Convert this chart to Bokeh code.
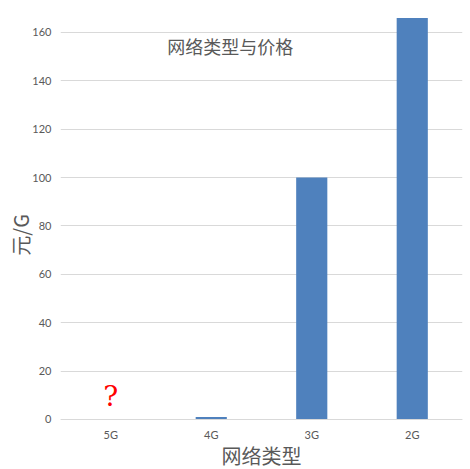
from bokeh.plotting import figure
from bokeh.models import ColumnDataSource, Label, Range1d, FixedTicker
from bokeh.core.properties import value
from bokeh.embed import file_html
from bokeh.resources import INLINE

categories = ["5G", "4G", "3G", "2G"]
prices = [0, 1, 100, 166]
y_ticks = [0, 20, 40, 60, 80, 100, 120, 140, 160]
title_text = "网络类型与价格"
x_label = "网络类型"
y_label = "元/G"
unknown_cat = ["5G"]
unknown_mark = ["?"]

CJK = "Noto Sans CJK SC"
GRAY = "#595959"

src = ColumnDataSource(data=dict(cat=categories, price=prices))

p = figure(x_range=categories, y_range=Range1d(-20.7, 173.2), width=470, height=469,
           output_backend="svg", toolbar_location=None,
           min_border_left=60, min_border_right=8, min_border_top=0, min_border_bottom=0)
p.outline_line_color = None
p.background_fill_color = "white"
p.border_fill_color = "white"

p.vbar(x="cat", top="price", width=0.31, source=src, fill_color="#4F81BD", line_color=None)

p.text(x=unknown_cat, y=[0], text=unknown_mark, text_color="red",
       text_font=value("DejaVu Serif"), text_font_size="28px", text_align="center",
       text_baseline="bottom", y_offset=-6)

p.add_layout(Label(x=1.69, y=154.2, text=title_text, text_align="center",
                   text_baseline="middle", text_font=CJK, text_font_size="18px",
                   text_color=GRAY))

p.xgrid.grid_line_color = None
p.ygrid.grid_line_color = "#D9D9D9"
p.ygrid.ticker = FixedTicker(ticks=y_ticks)

p.yaxis.ticker = FixedTicker(ticks=y_ticks)
p.yaxis.axis_line_color = None
p.yaxis.major_tick_line_color = None
p.yaxis.minor_tick_line_color = None
p.yaxis.major_label_text_font_size = "11px"
p.yaxis.major_label_text_color = GRAY
p.yaxis.major_label_text_font = "Lato"
p.yaxis.major_label_standoff = 3
p.yaxis.axis_label = y_label
p.yaxis.axis_label_text_font = CJK
p.yaxis.axis_label_text_font_size = "20px"
p.yaxis.axis_label_text_font_style = "normal"
p.yaxis.axis_label_text_color = GRAY
p.yaxis.axis_label_standoff = -6

p.xaxis.fixed_location = 0
p.xaxis.axis_line_color = "#D9D9D9"
p.xaxis.major_tick_line_color = None
p.xaxis.minor_tick_line_color = None
p.xaxis.major_label_text_font_size = "11px"
p.xaxis.major_label_text_color = GRAY
p.xaxis.major_label_text_font = "Lato"
p.xaxis.major_label_standoff = 3
p.xaxis.axis_label = x_label
p.xaxis.axis_label_text_font = CJK
p.xaxis.axis_label_text_font_size = "20px"
p.xaxis.axis_label_text_font_style = "normal"
p.xaxis.axis_label_text_color = GRAY
p.xaxis.axis_label_standoff = -4

open("out.html", "w").write(file_html(p, INLINE))
